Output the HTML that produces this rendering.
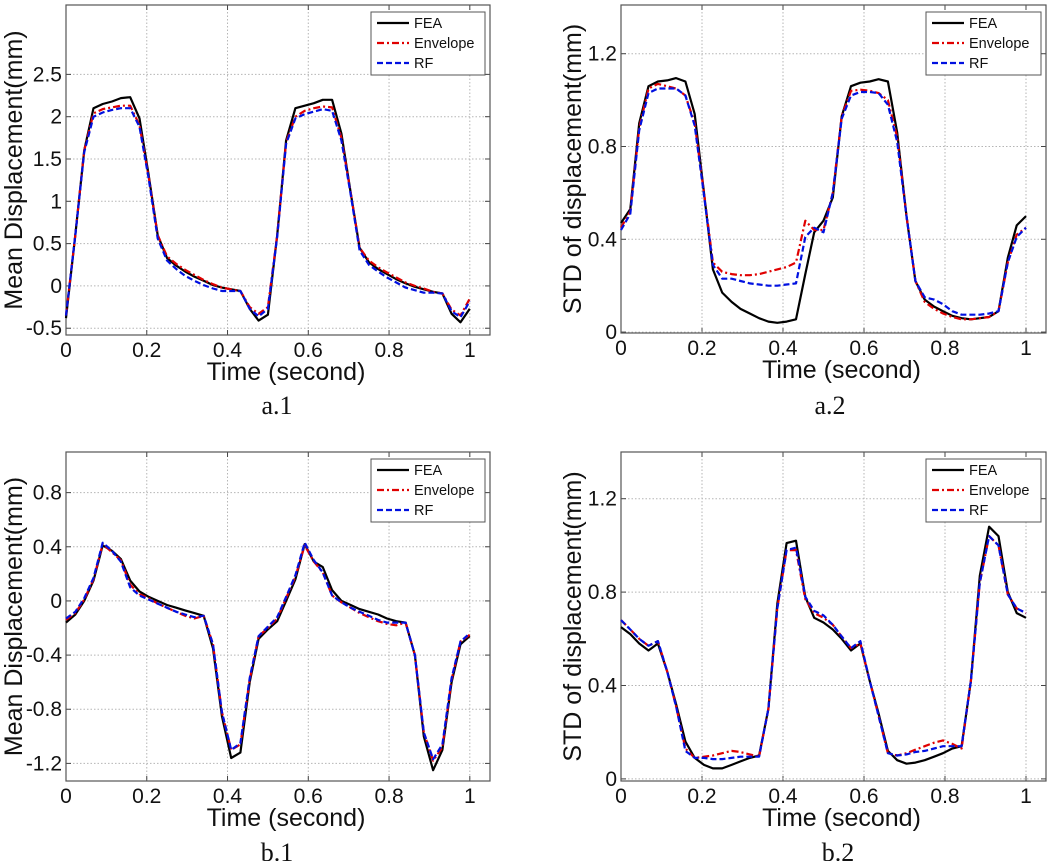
<!DOCTYPE html>
<html><head><meta charset="utf-8">
<style>
html,body{margin:0;padding:0;background:#fff;}
svg{display:block;font-family:"Liberation Sans",Arial,sans-serif;}
</style></head>
<body>
<svg id="fig" width="1050" height="861" viewBox="0 0 1050 861" xmlns="http://www.w3.org/2000/svg"></svg>
<script>
const T = [0,0.023,0.045,0.068,0.091,0.114,0.136,0.159,0.182,0.205,0.227,0.25,0.273,0.295,0.318,0.341,0.364,0.386,0.409,0.432,0.455,0.477,0.5,0.523,0.545,0.568,0.591,0.614,0.636,0.659,0.682,0.705,0.727,0.75,0.773,0.795,0.818,0.841,0.864,0.886,0.909,0.932,0.955,0.977,1.0];
const xTicks = [0,0.2,0.4,0.6,0.8,1];
const xTickLabels = ["0","0.2","0.4","0.6","0.8","1"];

const a1FEA = [-0.38,0.6,1.6,2.1,2.15,2.18,2.22,2.23,1.98,1.3,0.6,0.33,0.24,0.17,0.11,0.06,0.01,-0.02,-0.04,-0.06,-0.27,-0.41,-0.34,0.6,1.72,2.1,2.13,2.16,2.2,2.2,1.8,1.1,0.45,0.28,0.2,0.14,0.08,0.03,-0.01,-0.04,-0.07,-0.09,-0.33,-0.43,-0.27];
const a1Env = [-0.35,0.6,1.6,2.04,2.09,2.11,2.13,2.13,1.9,1.28,0.6,0.35,0.26,0.19,0.13,0.07,0.02,-0.02,-0.04,-0.06,-0.25,-0.33,-0.25,0.6,1.7,2.0,2.07,2.1,2.12,2.11,1.75,1.1,0.45,0.3,0.22,0.16,0.1,0.04,0.0,-0.03,-0.07,-0.09,-0.28,-0.35,-0.15];
const a1RF = [-0.35,0.6,1.58,2.0,2.05,2.08,2.1,2.1,1.88,1.26,0.56,0.3,0.2,0.12,0.06,0.01,-0.03,-0.06,-0.06,-0.06,-0.27,-0.36,-0.27,0.58,1.68,1.98,2.03,2.06,2.09,2.07,1.72,1.08,0.42,0.25,0.17,0.1,0.04,-0.02,-0.05,-0.08,-0.08,-0.09,-0.3,-0.37,-0.18];
const a1YTicks = [-0.5,0,0.5,1,1.5,2,2.5];
const a1YLabels = ["-0.5","0","0.5","1","1.5","2","2.5"];

const a2FEA = [0.47,0.53,0.9,1.06,1.08,1.085,1.095,1.08,0.94,0.6,0.27,0.17,0.13,0.1,0.08,0.06,0.045,0.04,0.045,0.055,0.25,0.43,0.48,0.58,0.93,1.06,1.075,1.08,1.09,1.08,0.86,0.5,0.22,0.14,0.11,0.09,0.07,0.06,0.055,0.06,0.065,0.09,0.32,0.46,0.5];
const a2Env = [0.45,0.52,0.88,1.05,1.07,1.06,1.05,1.02,0.9,0.6,0.3,0.26,0.25,0.245,0.245,0.25,0.26,0.27,0.28,0.3,0.48,0.44,0.44,0.6,0.93,1.04,1.045,1.04,1.03,1.0,0.84,0.5,0.22,0.13,0.1,0.08,0.065,0.055,0.055,0.06,0.065,0.09,0.3,0.42,0.45];
const a2RF = [0.44,0.51,0.87,1.03,1.05,1.05,1.05,1.02,0.89,0.59,0.29,0.23,0.23,0.22,0.21,0.205,0.2,0.2,0.205,0.21,0.41,0.45,0.43,0.6,0.92,1.02,1.035,1.035,1.03,0.98,0.82,0.5,0.22,0.15,0.14,0.12,0.09,0.075,0.075,0.075,0.08,0.09,0.3,0.41,0.45];
const a2YTicks = [0,0.4,0.8,1.2];
const a2YLabels = ["0","0.4","0.8","1.2"];

const b1FEA = [-0.16,-0.1,0.0,0.15,0.41,0.37,0.31,0.15,0.07,0.03,0.0,-0.03,-0.05,-0.07,-0.09,-0.11,-0.35,-0.85,-1.16,-1.12,-0.6,-0.28,-0.21,-0.15,0.0,0.16,0.42,0.29,0.25,0.08,0.0,-0.03,-0.06,-0.08,-0.1,-0.13,-0.15,-0.16,-0.4,-1.0,-1.25,-1.1,-0.6,-0.32,-0.26];
const b1Env = [-0.14,-0.09,0.01,0.16,0.42,0.36,0.3,0.12,0.05,0.02,-0.02,-0.05,-0.08,-0.11,-0.13,-0.11,-0.32,-0.82,-1.1,-1.06,-0.58,-0.26,-0.2,-0.13,0.02,0.18,0.41,0.29,0.21,0.04,-0.01,-0.05,-0.09,-0.12,-0.15,-0.17,-0.18,-0.16,-0.4,-0.97,-1.18,-1.08,-0.58,-0.3,-0.25];
const b1RF = [-0.13,-0.08,0.02,0.17,0.43,0.37,0.29,0.1,0.04,0.01,-0.02,-0.05,-0.08,-0.1,-0.12,-0.11,-0.32,-0.82,-1.1,-1.05,-0.57,-0.26,-0.19,-0.12,0.03,0.19,0.43,0.3,0.21,0.04,-0.01,-0.05,-0.08,-0.11,-0.14,-0.16,-0.16,-0.16,-0.4,-0.97,-1.17,-1.06,-0.57,-0.3,-0.24];
const b1YTicks = [-1.2,-0.8,-0.4,0,0.4,0.8];
const b1YLabels = ["-1.2","-0.8","-0.4","0","0.4","0.8"];

const b2FEA = [0.65,0.62,0.58,0.55,0.58,0.46,0.32,0.16,0.09,0.06,0.045,0.045,0.06,0.075,0.09,0.1,0.3,0.75,1.01,1.02,0.78,0.69,0.67,0.64,0.6,0.55,0.58,0.42,0.28,0.12,0.08,0.065,0.07,0.08,0.095,0.11,0.13,0.14,0.42,0.87,1.08,1.04,0.8,0.71,0.69];
const b2Env = [0.68,0.64,0.6,0.57,0.59,0.46,0.31,0.13,0.09,0.095,0.1,0.11,0.12,0.115,0.105,0.095,0.3,0.73,0.98,0.98,0.77,0.71,0.69,0.66,0.61,0.56,0.58,0.42,0.27,0.11,0.1,0.11,0.125,0.14,0.155,0.165,0.15,0.13,0.42,0.84,1.04,1.0,0.79,0.73,0.71];
const b2RF = [0.68,0.64,0.6,0.57,0.59,0.46,0.31,0.12,0.09,0.09,0.085,0.085,0.09,0.095,0.095,0.095,0.3,0.73,0.98,0.99,0.78,0.72,0.7,0.66,0.61,0.56,0.59,0.42,0.27,0.11,0.1,0.105,0.115,0.12,0.13,0.14,0.14,0.14,0.42,0.84,1.04,1.0,0.79,0.73,0.71];
const b2YTicks = [0,0.4,0.8,1.2];
const b2YLabels = ["0","0.4","0.8","1.2"];

const NS = "http://www.w3.org/2000/svg";
const fig = document.getElementById('fig');
function mk(tag, attrs, parent){
  const e = document.createElementNS(NS, tag);
  for (const k in attrs) e.setAttribute(k, attrs[k]);
  (parent||fig).appendChild(e);
  return e;
}

function panel(id, box, xr, yr, yTicks, yLabels, ytitle, caption, fea, env, rf){
  const g = mk('g', {});
  
  
  const sx = v => box.l + (v - xr[0]) / (xr[1] - xr[0]) * (box.r - box.l);
  const sy = v => box.b - (v - yr[0]) / (yr[1] - yr[0]) * (box.b - box.t);
  xTicks.forEach((t,i) => {
    const gl = mk('line', {x1:sx(t), x2:sx(t), y1:box.t, y2:box.b, stroke:'#b5b5b5', 'stroke-width':1, 'stroke-dasharray':'1.5,2'}, g);
    
    
    mk('line', {x1:sx(t), x2:sx(t), y1:box.b, y2:box.b-5, stroke:'#444', 'stroke-width':1}, g);
    mk('line', {x1:sx(t), x2:sx(t), y1:box.t, y2:box.t+5, stroke:'#444', 'stroke-width':1}, g);
    const tl = mk('text', {x:sx(t), y:box.b+22, 'font-size':21, 'text-anchor':'middle', fill:'#111'}, g);
    tl.textContent = xTickLabels[i];
    
    
  });
  yTicks.forEach((t,i) => {
    const gl = mk('line', {x1:box.l, x2:box.r, y1:sy(t), y2:sy(t), stroke:'#b5b5b5', 'stroke-width':1, 'stroke-dasharray':'1.5,2'}, g);
    
    
    mk('line', {x1:box.l, x2:box.l+5, y1:sy(t), y2:sy(t), stroke:'#444', 'stroke-width':1}, g);
    mk('line', {x1:box.r, x2:box.r-5, y1:sy(t), y2:sy(t), stroke:'#444', 'stroke-width':1}, g);
    const tl = mk('text', {x:box.l-4, y:sy(t)+7, 'font-size':21, 'text-anchor':'end', fill:'#111'}, g);
    tl.textContent = yLabels[i];
    
    
  });
  const frame = mk('rect', {x:box.l, y:box.t, width:box.r-box.l, height:box.b-box.t, fill:'none', stroke:'#555', 'stroke-width':1.2}, g);
  
  
  const styles = [
    {d:fea, c:'#000', dash:'', n:'fea-line'},
    {d:env, c:'#e00000', dash:'7,3,2,3', n:'envelope-line'},
    {d:rf, c:'#0010e0', dash:'6,3', n:'rf-line'}
  ];
  styles.forEach(s => {
    const pts = T.map((t,i) => sx(t).toFixed(1) + ',' + sy(s.d[i]).toFixed(1)).join(' ');
    const pl = mk('polyline', {points:pts, fill:'none', stroke:s.c, 'stroke-width':2.2, 'stroke-dasharray':s.dash, 'stroke-linejoin':'round'}, g);
    
    
  });
  const lg = mk('g', {}, g);
  
  
  mk('rect', {x:box.legX, y:box.t+7, width:box.legW, height:63, fill:'#fff', stroke:'#555', 'stroke-width':1}, lg);
  const names = ['FEA','Envelope','RF'];
  styles.forEach((s,i) => {
    const y = box.t + 18 + i*20;
    mk('line', {x1:box.legX+6, x2:box.legX+38, y1:y, y2:y, stroke:s.c, 'stroke-width':2.2, 'stroke-dasharray':s.dash}, lg);
    const lt = mk('text', {x:box.legX+43, y:y+5, 'font-size':14.5, fill:'#111'}, lg);
    lt.textContent = names[i];
    
    
  });
  const xt = mk('text', {x:(box.l+box.r)/2+8, y:box.b+45, 'font-size':25, 'text-anchor':'middle', fill:'#111'}, g);
  xt.textContent = 'Time (second)';
  
  
  const yt = mk('text', {x:0, y:0, 'font-size':25, 'text-anchor':'middle', fill:'#111', transform:'translate(' + box.ytx + ',' + ((box.t+box.b)/2) + ') rotate(-90)'}, g);
  yt.textContent = ytitle;
  
  
  const cp = mk('text', {x:box.capX, y:box.capY, 'font-size':26, 'text-anchor':'middle', fill:'#111', 'font-family':'"Liberation Serif", serif'}, g);
  cp.textContent = caption;
  
  
}

panel('a1', {l:66, r:490, t:5, b:335, legX:371, legW:114, ytx:22, capX:277, capY:414}, [0,1.05], [-0.58,3.32], a1YTicks, a1YLabels, 'Mean Displacement(mm)', 'a.1', a1FEA, a1Env, a1RF);
panel('a2', {l:621, r:1046, t:5, b:333, legX:926, legW:115, ytx:581, capX:830, capY:414}, [0,1.0494], [-0.004,1.41], a2YTicks, a2YLabels, 'STD of displacement(mm)', 'a.2', a2FEA, a2Env, a2RF);
panel('b1', {l:66, r:490, t:452, b:781, legX:371, legW:114, ytx:22, capX:277, capY:861}, [0,1.05], [-1.33,1.10], b1YTicks, b1YLabels, 'Mean Displacement(mm)', 'b.1', b1FEA, b1Env, b1RF);
panel('b2', {l:621, r:1046, t:452, b:781, legX:926, legW:115, ytx:581, capX:838, capY:861}, [0,1.0494], [-0.009,1.40], b2YTicks, b2YLabels, 'STD of displacement(mm)', 'b.2', b2FEA, b2Env, b2RF);
</script>
</body></html>
